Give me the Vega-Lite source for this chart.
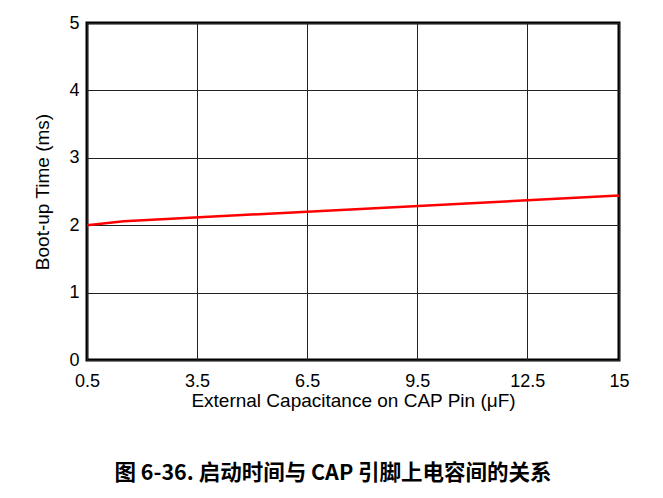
{
  "$schema": "https://vega.github.io/schema/vega-lite/v6.json",
  "autosize": {"type": "none"},
  "width": 532,
  "height": 337,
  "padding": {"left": 87, "top": 23, "right": 44, "bottom": 138},
  "background": "white",
  "config": {
    "font": "Liberation Sans",
    "view": {"stroke": "black", "strokeWidth": 3},
    "axis": {"gridColor": "#222", "gridWidth": 1, "gridOpacity": 1, "domain": false, "ticks": false,
      "labelFont": "Liberation Sans", "labelFontSize": 18, "labelColor": "black",
      "titleFont": "Liberation Sans", "titleFontSize": 19, "titleFontWeight": "normal", "titleColor": "black"}
  },
  "title": {
    "text": "图 6-36. 启动时间与 CAP 引脚上电容间的关系",
    "orient": "bottom",
    "anchor": "middle",
    "font": "Noto Sans CJK SC",
    "fontSize": 21.5,
    "fontWeight": "bold",
    "color": "black",
    "offset": 53,
    "dx": -20
  },
  "data": {"values": [
    {"cap": 0.5, "t": 2.0},
    {"cap": 1.5, "t": 2.06},
    {"cap": 6.5, "t": 2.2},
    {"cap": 12.5, "t": 2.37},
    {"cap": 15, "t": 2.44}
  ]},
  "mark": {"type": "line", "color": "#ff0000", "strokeWidth": 2.5, "clip": true},
  "encoding": {
    "x": {"field": "cap", "type": "quantitative",
      "scale": {"domain": [0.5, 15], "nice": false, "zero": false},
      "axis": {"values": [0.5, 3.5, 6.5, 9.5, 12.5, 15], "labelExpr": "'' + datum.value", "labelPadding": 12, "labelFlush": false,
        "title": "External Capacitance on CAP Pin (μF)", "titlePadding": 1}},
    "y": {"field": "t", "type": "quantitative",
      "scale": {"domain": [0, 5], "nice": false},
      "axis": {"values": [0, 1, 2, 3, 4, 5], "labelPadding": 8,
        "title": "Boot-up Time (ms)", "titlePadding": 16}}
  }
}
